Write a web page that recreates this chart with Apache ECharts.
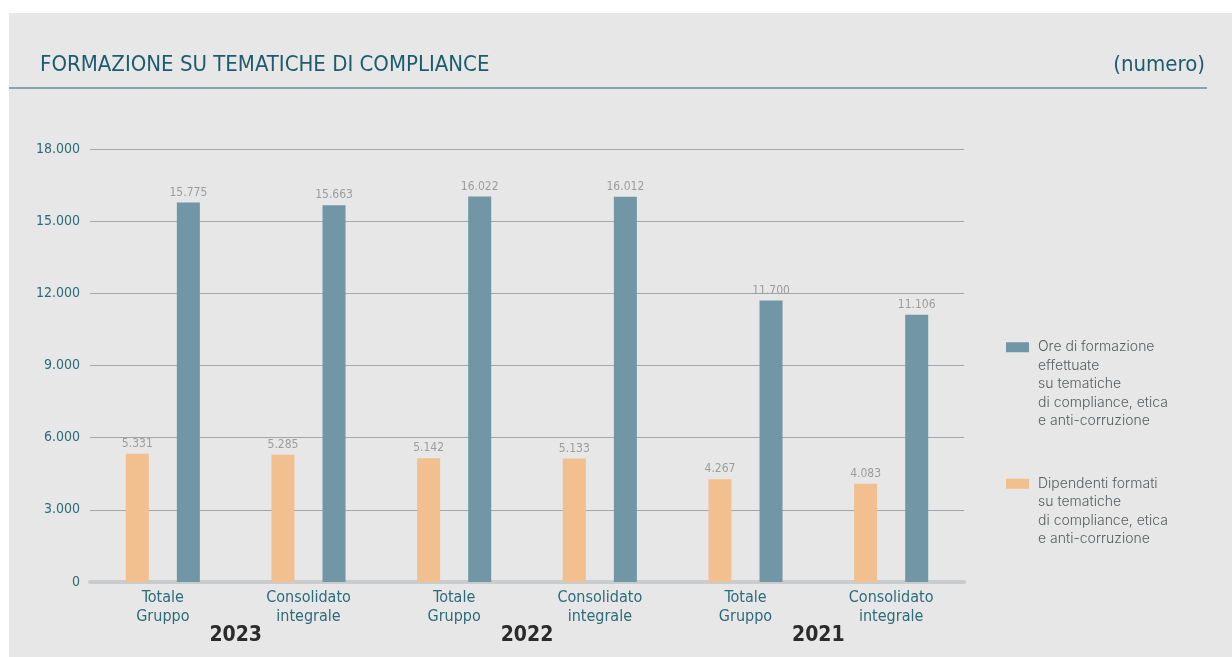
<!DOCTYPE html>
<html>
<head>
<meta charset="utf-8">
<script src="https://cdn.jsdelivr.net/npm/echarts@6/dist/echarts.min.js"></script>
<style>
    html, body { margin: 0; padding: 0; background: #fff; }
    .panel { position: absolute; left: 9px; top: 13px; width: 1223px; height: 644px; background: #e6e7e6; }
    #complianceBar { position: absolute; left: 0; top: 0; width: 1232px; height: 657px; }
</style>
</head>
<body>
<div class="panel"></div>
<div id="complianceBar"></div>
<script>
    // dati
    const categories = ['Totale\nGruppo', 'Consolidato\nintegrale', 'Totale\nGruppo', 'Consolidato\nintegrale', 'Totale\nGruppo', 'Consolidato\nintegrale'];
    const years = ['2023', '2022', '2021'];
    const dipendenti = [5331, 5285, 5142, 5133, 4267, 4083];
    const ore = [15775, 15663, 16022, 16012, 11700, 11106];
    const nameDipendenti = 'Dipendenti formati\nsu tematiche\ndi compliance, etica\ne anti-corruzione';
    const nameOre = 'Ore di formazione\neffettuate\nsu tematiche\ndi compliance, etica\ne anti-corruzione';

    const condensed = '"DejaVu Sans Condensed", "DejaVu Sans", sans-serif';
    const teal = '#2b6b7b';

    function fmt(v) {
        return String(v).replace(/\B(?=(\d{3})+(?!\d))/g, '.');
    }

    // la legenda centra il testo sull'icona: righe vuote sopra per allineare la prima riga
    function topAlign(name) {
        let n = name.split('\n').length;
        return '\n'.repeat(n - 1) + name;
    }

    let myChart = echarts.init(document.getElementById('complianceBar'));

    let legendText = {
        color: '#595d5f',
        fontFamily: 'Inter, "Noto Sans", sans-serif',
        fontSize: 14,
        fontWeight: 300,
        lineHeight: 18.5,
        padding: [0, 0, 0, 4]
    };

    let option = {
        animation: false,
        title: [{
            text: 'FORMAZIONE SU TEMATICHE DI COMPLIANCE',
            left: 40,
            top: 54,
            padding: 0,
            textStyle: {color: '#1d5c6e', fontFamily: condensed, fontSize: 22, fontWeight: 'normal'}
        }, {
            text: '(numero)',
            right: 27,
            top: 54,
            padding: 0,
            textStyle: {color: '#1d5c6e', fontFamily: condensed, fontSize: 22, fontWeight: 'normal'}
        }],
        graphic: [{
            type: 'rect',
            shape: {x: 9, y: 87, width: 1198, height: 2},
            style: {fill: '#84a5ae'},
            silent: true
        }],
        legend: [{
            data: [nameOre],
            left: 1006,
            top: 264,
            padding: 0,
            itemWidth: 23,
            itemHeight: 10,
            icon: 'rect',
            selectedMode: false,
            formatter: topAlign,
            textStyle: legendText
        }, {
            data: [nameDipendenti],
            left: 1006,
            top: 419,
            padding: 0,
            itemWidth: 23,
            itemHeight: 10,
            icon: 'rect',
            selectedMode: false,
            formatter: topAlign,
            textStyle: legendText
        }],
        grid: {
            left: 90,
            right: 268,
            top: 149,
            bottom: 75
        },
        xAxis: [{
            type: 'category',
            data: categories,
            axisTick: {show: false},
            axisLine: {lineStyle: {color: '#c9cbcc', width: 4}},
            axisLabel: {
                color: teal,
                fontFamily: condensed,
                fontSize: 16,
                lineHeight: 19,
                margin: 6,
                interval: 0
            }
        }, {
            type: 'category',
            data: years,
            position: 'bottom',
            axisTick: {show: false},
            axisLine: {show: false},
            axisLabel: {
                color: '#2b2a2c',
                fontFamily: condensed,
                fontSize: 21,
                fontWeight: 'bold',
                margin: 43
            }
        }],
        yAxis: {
            type: 'value',
            min: 0,
            max: 18000,
            interval: 3000,
            axisLine: {show: false},
            axisTick: {show: false},
            axisLabel: {
                color: teal,
                fontFamily: condensed,
                fontSize: 14,
                margin: 10,
                formatter: fmt
            },
            splitLine: {lineStyle: {color: '#a3a6a7', width: 1}}
        },
        series: [{
            name: nameDipendenti,
            type: 'bar',
            data: dipendenti,
            barWidth: 23,
            barGap: '122%',
            itemStyle: {color: '#f2bf8f'},
            label: {
                show: true,
                position: 'top',
                distance: 4,
                color: '#9b9c9d',
                fontFamily: condensed,
                fontSize: 12,
                formatter: p => fmt(p.value)
            }
        }, {
            name: nameOre,
            type: 'bar',
            data: ore,
            barWidth: 23,
            itemStyle: {color: '#7196a6'},
            label: {
                show: true,
                position: 'top',
                distance: 4,
                color: '#9b9c9d',
                fontFamily: condensed,
                fontSize: 12,
                formatter: p => fmt(p.value)
            }
        }]
    };

    myChart.setOption(option);
</script>
</body>
</html>
